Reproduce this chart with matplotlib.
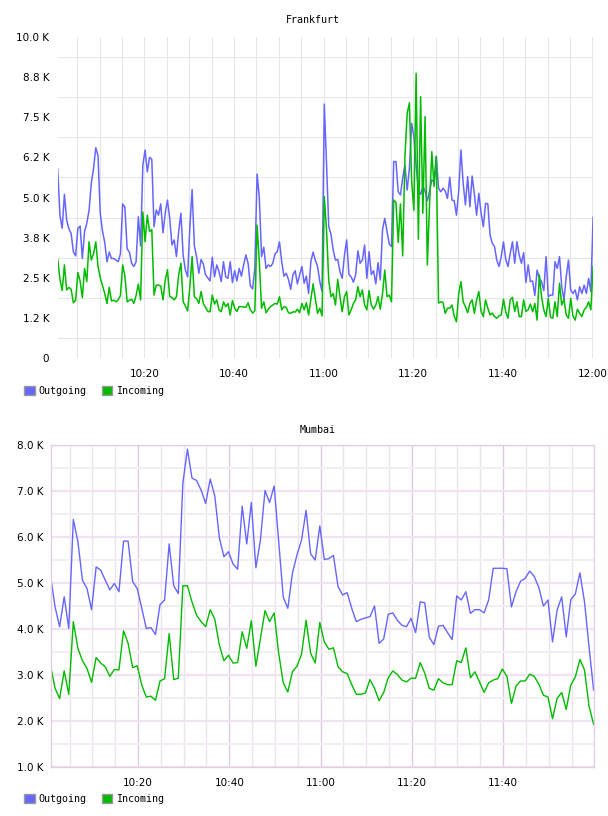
import pandas as pd
import matplotlib
matplotlib.use("Agg")
import matplotlib.pyplot as plt
import matplotlib.dates as mdates
from matplotlib.patches import Patch
from matplotlib.ticker import FixedLocator, FuncFormatter

# Frankfurt: one sample every 30 s, values in K
fra_time = pd.date_range("2024-01-01 10:00:40", periods=240, freq="30s")
fra_out = [
    5.88, 4.45, 4.04, 5.10, 4.30, 4.02, 3.88, 3.31, 3.18, 4.04,
    4.11, 3.10, 3.94, 4.20, 4.60, 5.45, 5.90, 6.55, 6.30, 4.50,
    3.95, 3.60, 3.00, 3.30, 3.10, 3.10, 3.05, 3.00, 3.24, 4.80,
    4.70, 3.40, 3.30, 2.95, 2.85, 3.00, 4.40, 3.49, 6.00, 6.48,
    5.80, 6.25, 6.19, 4.09, 4.61, 4.45, 4.80, 3.90, 4.51, 4.92,
    4.35, 3.52, 3.68, 3.16, 3.94, 4.51, 3.20, 2.74, 2.53, 4.09,
    5.25, 3.50, 3.16, 2.64, 3.07, 2.93, 2.59, 2.50, 2.40, 3.14,
    2.53, 2.90, 2.70, 2.38, 3.00, 2.53, 2.48, 3.00, 2.35, 2.72,
    2.40, 2.79, 2.55, 2.90, 3.21, 2.95, 2.25, 2.15, 2.80, 5.73,
    5.00, 3.16, 3.45, 2.79, 2.90, 2.85, 2.95, 3.24, 3.31, 3.62,
    3.00, 2.55, 2.64, 2.45, 2.14, 2.59, 2.72, 2.31, 2.59, 2.85,
    2.33, 2.55, 2.01, 3.00, 3.30, 3.05, 2.85, 2.38, 2.07, 7.91,
    6.06, 4.09, 3.85, 3.36, 3.05, 3.07, 2.69, 2.48, 3.20, 3.68,
    2.60, 2.53, 2.36, 2.59, 3.34, 2.95, 3.05, 3.52, 2.48, 3.31,
    2.60, 2.72, 2.31, 2.97, 2.43, 4.00, 4.35, 3.95, 3.55, 3.47,
    6.12, 6.12, 5.18, 5.08, 5.60, 6.01, 5.23, 5.91, 7.31, 6.90,
    6.00, 5.20, 5.10, 5.36, 5.20, 4.90, 5.20, 5.55, 5.49, 6.29,
    5.29, 5.18, 5.29, 5.20, 4.97, 5.63, 4.92, 4.90, 4.45, 5.20,
    6.48, 5.44, 4.77, 5.65, 4.71, 5.67, 5.10, 4.45, 5.13, 4.51,
    4.09, 4.82, 4.80, 3.83, 3.57, 3.47, 3.05, 2.85, 3.16, 3.62,
    3.07, 2.85, 3.26, 3.62, 2.95, 3.62, 3.21, 2.95, 3.28, 2.35,
    2.90, 2.38, 2.40, 1.95, 2.74, 2.48, 2.38, 2.10, 3.16, 1.91,
    1.96, 1.96, 3.00, 2.79, 3.16, 2.22, 1.81, 2.53, 3.05, 2.12,
    2.01, 2.12, 1.81, 2.22, 2.01, 2.27, 2.01, 2.48, 2.07, 4.38,
]
fra_in = [
    3.07, 2.46, 2.10, 2.90, 2.12, 2.20, 2.14, 1.72, 1.80, 2.66,
    2.40, 1.88, 2.79, 2.38, 3.62, 3.05, 3.25, 3.62, 2.85, 2.50,
    2.25, 2.01, 1.70, 2.20, 1.78, 1.80, 1.75, 1.81, 1.95, 2.90,
    2.55, 1.75, 1.80, 1.83, 1.70, 1.95, 2.30, 1.81, 4.55, 3.62,
    4.45, 3.94, 4.00, 1.96, 2.27, 2.27, 2.24, 1.81, 2.43, 2.75,
    1.91, 1.89, 1.81, 1.91, 2.59, 2.95, 1.75, 1.62, 1.47, 2.22,
    3.16, 1.91, 1.85, 1.70, 2.07, 1.70, 1.58, 1.45, 1.44, 1.96,
    1.68, 1.81, 1.50, 1.44, 1.75, 1.60, 1.70, 1.34, 1.79, 1.55,
    1.45, 1.60, 1.60, 1.59, 1.58, 1.72, 1.50, 1.40, 1.47, 4.14,
    3.00, 1.55, 1.75, 1.41, 1.52, 1.60, 1.65, 1.70, 1.68, 1.91,
    1.50, 1.60, 1.57, 1.41, 1.39, 1.44, 1.43, 1.52, 1.41, 1.70,
    1.50, 1.72, 1.34, 1.83, 2.31, 1.86, 1.39, 1.55, 1.31, 5.03,
    3.99, 2.41, 1.91, 2.01, 1.65, 2.45, 1.91, 1.44, 1.91, 2.07,
    1.34, 1.50, 1.70, 1.81, 2.22, 1.91, 2.12, 1.65, 1.50, 2.10,
    1.65, 1.52, 1.65, 1.91, 1.52, 2.01, 2.74, 1.91, 1.96, 1.75,
    4.92, 4.85, 3.60, 4.80, 3.18, 6.27, 7.62, 7.95, 5.50, 4.60,
    8.87, 3.70, 8.14, 4.51, 7.52, 2.90, 4.80, 6.43, 5.34, 6.27,
    1.71, 1.75, 1.73, 1.39, 1.55, 1.55, 1.65, 1.30, 1.13, 2.00,
    2.38, 1.75, 1.60, 1.41, 1.70, 1.81, 1.39, 1.81, 2.07, 1.45,
    1.29, 1.81, 1.55, 1.34, 1.40, 1.29, 1.24, 1.31, 1.34, 1.83,
    1.44, 1.24, 1.81, 1.89, 1.45, 1.75, 1.29, 1.29, 1.81, 1.45,
    1.50, 1.68, 1.44, 1.70, 1.18, 2.59, 1.90, 1.50, 1.29, 1.86,
    1.27, 1.24, 1.75, 1.29, 2.33, 1.65, 1.83, 1.34, 1.24, 1.86,
    1.31, 1.18, 1.52, 1.39, 1.29, 1.50, 1.58, 1.75, 1.50, 2.85,
]

# Mumbai: one sample per minute, values in K
mum_time = pd.date_range("2024-01-01 10:00:50", periods=120, freq="1min")
mum_out = [
    5.17, 4.48, 4.05, 4.70, 4.01, 6.38, 5.90, 5.06, 4.88, 4.42,
    5.35, 5.28, 5.06, 4.85, 4.99, 4.81, 5.91, 5.91, 5.03, 4.88,
    4.45, 4.01, 4.03, 3.88, 4.53, 4.63, 5.85, 4.94, 4.77, 7.17,
    7.91, 7.28, 7.23, 7.02, 6.73, 7.26, 6.89, 5.98, 5.57, 5.68,
    5.41, 5.30, 6.67, 5.85, 6.75, 5.33, 5.94, 7.01, 6.75, 7.11,
    5.90, 4.69, 4.45, 5.21, 5.61, 5.93, 6.58, 5.63, 5.50, 6.24,
    5.51, 5.53, 5.60, 4.92, 4.74, 4.79, 4.45, 4.16, 4.21, 4.24,
    4.27, 4.50, 3.69, 3.78, 4.32, 4.35, 4.19, 4.08, 4.05, 4.23,
    3.92, 4.59, 4.57, 3.82, 3.66, 4.06, 4.08, 3.92, 3.77, 4.72,
    4.63, 4.81, 4.34, 4.42, 4.42, 4.35, 4.63, 5.32, 5.32, 5.32,
    5.31, 4.48, 4.81, 5.04, 5.10, 5.26, 5.14, 4.90, 4.50, 4.63,
    3.72, 4.41, 4.70, 3.83, 4.64, 4.76, 5.22, 4.59, 3.61, 2.67,
]
mum_in = [
    3.21, 2.71, 2.49, 3.09, 2.58, 4.16, 3.58, 3.31, 3.14, 2.84,
    3.38, 3.26, 3.18, 2.97, 3.12, 3.11, 3.96, 3.69, 3.16, 3.20,
    2.78, 2.52, 2.54, 2.45, 2.87, 2.92, 3.90, 2.90, 2.93, 4.94,
    4.94, 4.59, 4.30, 4.16, 4.05, 4.42, 4.21, 3.65, 3.31, 3.43,
    3.26, 3.27, 3.94, 3.58, 4.18, 3.19, 3.79, 4.40, 4.16, 4.35,
    3.47, 2.83, 2.63, 3.07, 3.19, 3.45, 4.19, 3.47, 3.26, 4.14,
    3.72, 3.56, 3.59, 3.18, 3.07, 3.03, 2.79, 2.58, 2.58, 2.61,
    2.90, 2.71, 2.44, 2.62, 2.94, 3.09, 3.01, 2.89, 2.85, 2.93,
    2.93, 3.27, 3.04, 2.71, 2.67, 2.92, 2.83, 2.79, 2.79, 3.31,
    3.27, 3.59, 2.94, 3.07, 2.85, 2.62, 2.83, 2.89, 2.92, 3.13,
    2.97, 2.38, 2.76, 2.87, 2.87, 3.02, 2.97, 2.80, 2.56, 2.52,
    2.05, 2.49, 2.62, 2.25, 2.78, 2.96, 3.34, 3.11, 2.32, 1.93,
]

series_names = ["Outgoing", "Incoming"]
blue = "#6666ff"
green = "#00bb00"

W, H = 608, 816
fig = plt.figure(figsize=(W / 100, H / 100), dpi=100)


def px_axes(left, top, right, bottom):
    return fig.add_axes([left / W, 1 - bottom / H, (right - left) / W, (bottom - top) / H])


def style_time_axis(ax):
    ax.xaxis.set_major_locator(mdates.MinuteLocator(byminute=[0, 20, 40]))
    ax.xaxis.set_minor_locator(mdates.MinuteLocator(byminute=range(0, 60, 5)))
    ax.xaxis.set_major_formatter(mdates.DateFormatter("%H:%M"))
    ax.tick_params(which="both", length=0, labelsize=7.5, colors="#000000")
    ax.tick_params(axis="x", pad=8)


def add_legend(y_px):
    handles = [Patch(facecolor=c, edgecolor="#999999", linewidth=1) for c in (blue, green)]
    fig.legend(handles, series_names, loc="upper left",
               bbox_to_anchor=(24 / W, 1 - y_px / H), ncol=2, frameon=False,
               prop={"family": "DejaVu Sans Mono", "size": 7.2},
               handlelength=1.05, handleheight=1.05, handletextpad=0.4,
               columnspacing=1.5, borderpad=0, borderaxespad=0)


# ---- Frankfurt ----
ax1 = px_axes(57.7, 37, 593.1, 358)
ax1.plot(fra_time, fra_out, color=blue, lw=1.1)
ax1.plot(fra_time, fra_in, color=green, lw=1.1)
ax1.set_xlim(fra_time[0], fra_time[-1])
ax1.set_ylim(0, 10)
ax1.yaxis.set_major_locator(FixedLocator([i * 1.25 for i in range(9)]))
ax1.yaxis.set_minor_locator(FixedLocator([0.625 + i * 1.25 for i in range(8)]))
ax1.yaxis.set_major_formatter(FuncFormatter(lambda v, p: "0" if v == 0 else f"{v:.1f} K"))
style_time_axis(ax1)
ax1.tick_params(axis="y", pad=6)
ax1.grid(which="both", axis="x", color="#e6e6e6", lw=0.75)
ax1.grid(which="minor", axis="y", color="#e6e6e6", lw=0.75)
ax1.set_axisbelow(True)
for s in ax1.spines.values():
    s.set_visible(False)
fig.text(313 / W, 1 - 20 / H, "Frankfurt", ha="center", va="center",
         family="DejaVu Sans Mono", fontsize=7.2)
add_legend(386)

# ---- Mumbai ----
ax2 = px_axes(50.5, 445, 594, 767)
ax2.plot(mum_time, mum_out, color=blue, lw=1.0)
ax2.plot(mum_time, mum_in, color=green, lw=1.0)
ax2.set_xlim(mum_time[0], mum_time[-1] + pd.Timedelta(seconds=5))
ax2.set_ylim(1, 8)
ax2.yaxis.set_major_locator(FixedLocator(range(1, 9)))
ax2.yaxis.set_minor_locator(FixedLocator([1.5 + i for i in range(7)]))
ax2.yaxis.set_major_formatter(FuncFormatter(lambda v, p: f"{v:.1f} K"))
style_time_axis(ax2)
ax2.tick_params(axis="y", pad=5)
ax2.grid(which="major", axis="y", color="#f0e2f0", lw=1.6)
ax2.grid(which="minor", axis="y", color="#f3eef3", lw=1.4)
ax2.grid(which="major", axis="x", color="#dfc9df", lw=1)
ax2.grid(which="minor", axis="x", color="#ebe5eb", lw=1)
ax2.set_axisbelow(True)
for s in ax2.spines.values():
    s.set_color("#e2cde2")
    s.set_linewidth(1)
fig.text(318 / W, 1 - 430 / H, "Mumbai", ha="center", va="center",
         family="DejaVu Sans Mono", fontsize=7.2)
add_legend(794)

fig.savefig("out.png", dpi=100)
